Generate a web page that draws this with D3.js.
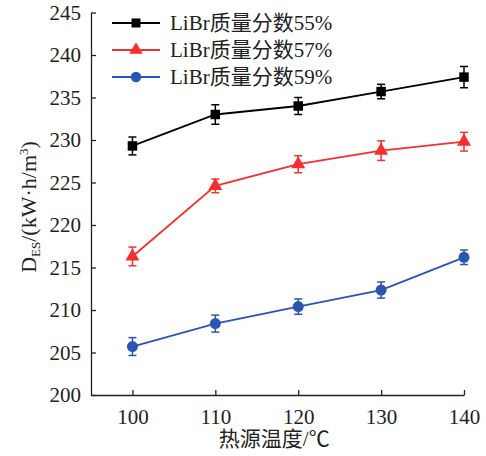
<!DOCTYPE html>
<html>
<head>
<meta charset="utf-8">
<script src="https://cdn.jsdelivr.net/npm/d3@7"></script>
<style>
  html, body { margin: 0; padding: 0; background: #fff; }
  svg text { font-family: "Liberation Serif", "Noto Sans CJK SC", serif; fill: #222; }
</style>
</head>
<body>
<svg id="chart" width="486" height="456"></svg>
<script>
const temps = [100, 110, 120, 130, 140];
const seriesNames = ["LiBr质量分数55%", "LiBr质量分数57%", "LiBr质量分数59%"];
const values55 = [229.3, 233.0, 234.0, 235.7, 237.4];
const errors55 = [1.05, 1.15, 1.0, 0.85, 1.25];
const values57 = [216.3, 224.6, 227.15, 228.75, 229.8];
const errors57 = [1.1, 0.8, 1.0, 1.15, 1.1];
const values59 = [205.7, 208.4, 210.4, 212.35, 216.2];
const errors59 = [1.05, 1.0, 0.9, 0.95, 0.85];
const xTicks = [100, 110, 120, 130, 140];
const yTicks = [200, 205, 210, 215, 220, 225, 230, 235, 240, 245];
const colors = ["#000000", "#f52f2f", "#2a55b0"];
const symbols = [d3.symbolSquare, d3.symbolTriangle, d3.symbolCircle];

const svg = d3.select("#chart");
const x = d3.scaleLinear().domain([95, 140]).range([91, 464]);
const y = d3.scaleLinear().domain([200, 245]).range([395, 12.5]);

// axes
const xAxis = d3.axisBottom(x).tickValues(xTicks).tickSizeInner(-5).tickSizeOuter(0).tickPadding(14);
const gx = svg.append("g").attr("transform", `translate(0,${y(200)})`).call(xAxis);
const yAxis = d3.axisLeft(y).tickValues(yTicks).tickSizeInner(-5).tickSizeOuter(0).tickPadding(10);
const gy = svg.append("g").attr("transform", `translate(${x(95)},0)`).call(yAxis);
[gx, gy].forEach(g => {
  g.selectAll("path.domain").attr("stroke", "#222").attr("stroke-width", 1.3);
  g.selectAll(".tick line").attr("stroke", "#222").attr("stroke-width", 1.3);
  g.selectAll(".tick text").attr("font-size", 21).attr("font-family", "Liberation Serif").attr("fill", "#222");
});
gx.selectAll(".tick text").attr("dy", "0.71em");
// top tick cap on y axis (short inward tick at 245 already drawn); small end tick at x=140 exists

// axis labels
svg.append("text")
  .attr("x", x(120) - 24).attr("y", 446)
  .attr("text-anchor", "middle").attr("font-size", 21)
  .text("热源温度/℃");

const yl = svg.append("text")
  .attr("transform", `translate(36,207) rotate(-90)`)
  .attr("text-anchor", "middle").attr("font-size", 22);
yl.append("tspan").text("D");
yl.append("tspan").attr("font-size", 13).attr("dy", 4).text("ES");
yl.append("tspan").attr("dy", -4).text("/(kW·h/m");
yl.append("tspan").attr("font-size", 13).attr("dy", -8).text("3");
yl.append("tspan").attr("dy", 8).text(")");

// series
const allSeries = [
  {vals: values55, errs: errors55},
  {vals: values57, errs: errors57},
  {vals: values59, errs: errors59}
];
const line = d3.line().x(d => x(d.t)).y(d => y(d.v));
const symSizes = [90, 85, 95];

allSeries.forEach((s, i) => {
  const data = temps.map((t, j) => ({t, v: s.vals[j], e: s.errs[j]}));
  const g = svg.append("g");
  g.append("path").datum(data).attr("d", line)
    .attr("fill", "none").attr("stroke", colors[i]).attr("stroke-width", 1.8);
  const eb = g.selectAll(".eb").data(data).enter().append("g");
  eb.append("line").attr("x1", d => x(d.t)).attr("x2", d => x(d.t))
    .attr("y1", d => y(d.v + d.e)).attr("y2", d => y(d.v - d.e))
    .attr("stroke", colors[i]).attr("stroke-width", 1.5);
  [1, -1].forEach(sg => {
    eb.append("line").attr("x1", d => x(d.t) - 4).attr("x2", d => x(d.t) + 4)
      .attr("y1", d => y(d.v + sg * d.e)).attr("y2", d => y(d.v + sg * d.e))
      .attr("stroke", colors[i]).attr("stroke-width", 1.5);
  });
  g.selectAll(".pt").data(data).enter().append("path")
    .attr("d", d3.symbol().type(symbols[i]).size(symSizes[i]))
    .attr("transform", d => `translate(${x(d.t)},${y(d.v)})`)
    .attr("fill", colors[i]);
});

// legend
const legendY = [23, 50, 77];
seriesNames.forEach((name, i) => {
  const g = svg.append("g").attr("transform", `translate(0,${legendY[i]})`);
  g.append("line").attr("x1", 112).attr("x2", 160).attr("y1", 0).attr("y2", 0)
    .attr("stroke", colors[i]).attr("stroke-width", 1.8);
  g.append("path").attr("d", d3.symbol().type(symbols[i]).size(symSizes[i] * 0.9))
    .attr("transform", "translate(136,0)").attr("fill", colors[i]);
  g.append("text").attr("x", 170).attr("y", 0).attr("dy", "0.35em")
    .attr("font-size", 21).text(name);
});
</script>
</body>
</html>
